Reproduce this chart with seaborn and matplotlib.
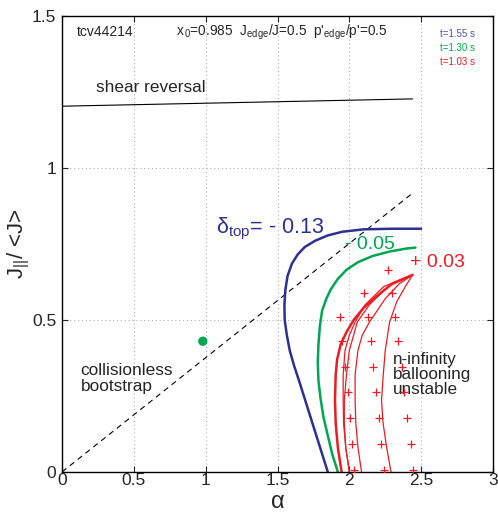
import matplotlib
matplotlib.use("Agg")
import matplotlib.pyplot as plt
import seaborn as sns
import numpy as np

# ---------------- data ----------------
x_ticks = [0, 0.5, 1, 1.5, 2, 2.5, 3]
x_tick_labels = ["0", "0.5", "1", "1.5", "2", "2.5", "3"]
y_ticks = [0, 0.5, 1, 1.5]
y_tick_labels = ["0", "0.5", "1", "1.5"]

shear_alpha = [0.0, 2.44]
shear_j = [1.203, 1.227]

bootstrap_alpha = [0.0, 2.44]
bootstrap_j = [0.0, 0.917]

point_alpha = [0.98]
point_j = [0.43]

blue_alpha = [1.85, 1.81, 1.77, 1.73, 1.69, 1.65, 1.615, 1.585, 1.565, 1.55, 1.548, 1.555,
              1.57, 1.60, 1.64, 1.69, 1.76, 1.85, 1.95, 2.10, 2.30, 2.50]
blue_j = [0.00, 0.06, 0.12, 0.18, 0.24, 0.30, 0.35, 0.40, 0.45, 0.50, 0.55, 0.60,
          0.645, 0.685, 0.715, 0.74, 0.76, 0.778, 0.79, 0.798, 0.80, 0.80]

green_alpha = [1.92, 1.88, 1.85, 1.82, 1.80, 1.785, 1.78, 1.785, 1.795, 1.81, 1.84, 1.87,
               1.92, 1.98, 2.06, 2.16, 2.28, 2.40, 2.46]
green_j = [0.00, 0.06, 0.12, 0.18, 0.24, 0.30, 0.36, 0.42, 0.48, 0.53, 0.57, 0.60,
           0.635, 0.665, 0.69, 0.71, 0.725, 0.735, 0.738]

red_thick_alpha = [1.946, 1.92, 1.905, 1.90, 1.905, 1.915, 1.94, 1.98, 2.03, 2.10, 2.17, 2.30, 2.44]
red_thick_j = [0.00, 0.08, 0.16, 0.237, 0.32, 0.37, 0.42, 0.46, 0.50, 0.54, 0.57, 0.62, 0.648]

red_a_alpha = [2.00, 1.975, 1.96, 1.957, 1.957, 1.97, 2.00, 2.04, 2.11, 2.24, 2.44]
red_a_j = [0.00, 0.08, 0.16, 0.237, 0.319, 0.40, 0.45, 0.493, 0.55, 0.61, 0.648]

red_b_alpha = [2.00, 1.975, 1.965, 1.965, 1.98, 2.00, 2.03, 2.055, 2.14, 2.27, 2.44]
red_b_j = [0.00, 0.08, 0.16, 0.237, 0.319, 0.40, 0.45, 0.493, 0.55, 0.61, 0.648]

red_c_alpha = [2.085, 2.06, 2.045, 2.04, 2.04, 2.06, 2.09, 2.14, 2.25, 2.35, 2.44]
red_c_j = [0.00, 0.08, 0.16, 0.237, 0.319, 0.40, 0.45, 0.493, 0.57, 0.62, 0.648]

red_d_alpha = [2.29, 2.26, 2.235, 2.224, 2.236, 2.25, 2.28, 2.33, 2.39, 2.44]
red_d_j = [0.00, 0.08, 0.16, 0.237, 0.319, 0.40, 0.493, 0.56, 0.61, 0.648]

plus_alpha = [2.035, 2.24, 2.44,
              2.02, 2.22, 2.43,
              2.004, 2.204, 2.40,
              1.99, 2.185, 2.38,
              1.97, 2.166, 2.366,
              1.95, 2.148, 2.34,
              1.935, 2.127, 2.317,
              2.10, 2.30,
              2.27]
plus_j = [0.007, 0.007, 0.007,
          0.091, 0.091, 0.091,
          0.176, 0.176, 0.176,
          0.263, 0.263, 0.263,
          0.346, 0.346, 0.346,
          0.432, 0.432, 0.432,
          0.511, 0.511, 0.511,
          0.588, 0.588,
          0.664]

legend_times = ["t=1.55 s", "t=1.30 s", "t=1.03 s"]

# ---------------- style ----------------
sns.set_style("ticks")
plt.rcParams["font.family"] = ["Liberation Sans", "DejaVu Sans"]
plt.rcParams["mathtext.fontset"] = "custom"
plt.rcParams["mathtext.rm"] = "Liberation Sans"
plt.rcParams["mathtext.it"] = "Liberation Sans"

BLUE = "#2e3192"
GREEN = "#00a651"
RED = "#ed1c24"

fig = plt.figure(figsize=(4.98, 5.13), dpi=100)
ax = fig.add_axes([0.1245, 0.080, 0.8655, 0.889])

# grid
for xv in x_ticks[1:-1]:
    ax.axvline(xv, color="#b0b0b0", lw=0.8, ls=(0, (1, 2.5)), zorder=0)
for yv in y_ticks[1:-1]:
    ax.axhline(yv, color="#b0b0b0", lw=0.8, ls=(0, (1, 2.5)), zorder=0)

sns.lineplot(x=shear_alpha, y=shear_j, ax=ax, color="black", lw=0.8, sort=False, estimator=None)
sns.lineplot(x=bootstrap_alpha, y=bootstrap_j, ax=ax, color="black", lw=0.8,
             linestyle=(0, (5, 4)), sort=False, estimator=None)
sns.scatterplot(x=point_alpha, y=point_j, ax=ax, color=GREEN, s=45, edgecolor="none", zorder=5)

sns.lineplot(x=blue_alpha, y=blue_j, ax=ax, color=BLUE, lw=1.8, sort=False, estimator=None)
sns.lineplot(x=green_alpha, y=green_j, ax=ax, color=GREEN, lw=1.8, sort=False, estimator=None)
sns.lineplot(x=red_thick_alpha, y=red_thick_j, ax=ax, color=RED, lw=1.8, sort=False, estimator=None)
for xa, ya in [(red_a_alpha, red_a_j), (red_b_alpha, red_b_j),
               (red_c_alpha, red_c_j), (red_d_alpha, red_d_j)]:
    sns.lineplot(x=xa, y=ya, ax=ax, color=RED, lw=0.9, sort=False, estimator=None)

sns.scatterplot(x=plus_alpha, y=plus_j, ax=ax, marker="+", color=RED, s=30, linewidth=0.9, zorder=4)

# texts
ax.text(0.10, 1.447, "tcv44214", fontsize=10, va="center", ha="left")
ax.text(0.79, 1.447, r"x$_{\,0}$=0.985  J$_{\rm edge}$/J=0.5  p'$_{\rm edge}$/p'=0.5",
        fontsize=9.8, va="center", ha="left")
for t, c, yv in zip(legend_times, ["#4a56b0", GREEN, RED], [1.440, 1.395, 1.350]):
    ax.text(2.63, yv, t, fontsize=7, color=c, va="center", ha="left")

ax.text(0.24, 1.266, "shear reversal", fontsize=12.4, va="center", ha="left")
ax.text(1.07, 0.80, r"$\mathregular{\delta_{top}}$= - 0.13", fontsize=15.5, color=BLUE,
        va="center", ha="left")
ax.text(1.97, 0.747, "- 0.05", fontsize=14, color=GREEN, va="center", ha="left")
ax.text(2.42, 0.689, "+ 0.03", fontsize=14, color=RED, va="center", ha="left")
ax.text(2.30, 0.395, "n-infinity\nballooning\nunstable", fontsize=12.3, va="top", ha="left",
        linespacing=1.0)
ax.text(0.13, 0.308, "collisionless\nbootstrap", fontsize=12.4, va="center", ha="left",
        linespacing=1.05)

ax.set_xlim(0, 3)
ax.set_ylim(0, 1.5)
ax.set_xticks(x_ticks)
ax.set_xticklabels(x_tick_labels, fontsize=12.5)
ax.set_yticks(y_ticks)
ax.set_yticklabels(y_tick_labels, fontsize=12.5)
ax.tick_params(direction="in", length=4, width=0.8, top=True, right=True, pad=1)
ax.tick_params(axis="y", pad=4)
for s in ax.spines.values():
    s.set_visible(True)
    s.set_linewidth(1.0)
    s.set_color("black")

ax.set_xlabel("")
fig.text(0.5 * (0.1245 + 0.99), 0.0, "α", fontsize=17, ha="center", va="bottom")
ax.set_ylabel(r"J$_{||}$/ <J>", fontsize=16, labelpad=0)

fig.savefig("out.png", dpi=100)
